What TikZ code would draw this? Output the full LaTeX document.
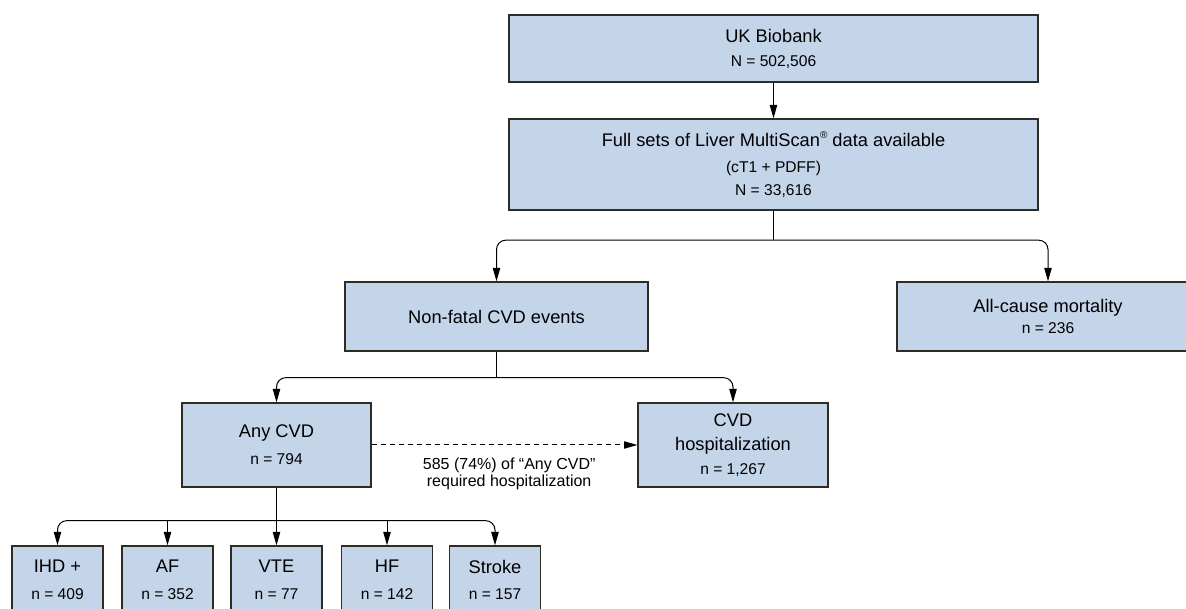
\documentclass[tikz,border=0pt]{standalone}
\usepackage{fontspec}
\setmainfont{Liberation Sans}
\usepackage{tikz}
\usetikzlibrary{positioning, arrows.meta}
\definecolor{boxblue}{RGB}{196,213,234}
\definecolor{boxline}{RGB}{45,45,35}
\newcommand{\cnt}[1]{{\fontsize{11.7}{14}\selectfont #1}}
\newcommand{\regmark}{\raisebox{0.8ex}{\fontsize{7.5}{8}\selectfont ®}}

\begin{document}
\begin{tikzpicture}[x=0.75pt, y=-0.75pt,
    box/.style={draw=boxline, fill=boxblue, line width=1pt, align=center,
        inner sep=0pt, font=\fontsize{13.7}{18}\selectfont},
    arr/.style={-{Triangle[length=10pt, width=5.5pt]}, line width=0.75pt},
    link/.style={arr, rounded corners=7pt}]
    \useasboundingbox (0,0) rectangle (1186,609);

    % Cohort
    \node[box, minimum width=396.75pt, minimum height=50.25pt] (ukb) at (773.5,48.5)
        {UK Biobank\\\cnt{N = 502,506}};
    \node[box, minimum width=396.75pt, minimum height=68.25pt] (lms) at (773.5,164.5)
        {Full sets of Liver MultiScan\regmark\ data available\\[2pt]\cnt{(cT1 + PDFF)}\\[-1pt]\cnt{N = 33,616}};
    \draw[arr] (ukb) -- (lms);

    % Outcomes
    \node[box, minimum width=227.25pt, minimum height=51.75pt] (nonfatal) at (496.5,316.5)
        {Non-fatal CVD events};
    \node[box, minimum width=226.5pt, minimum height=51.75pt] (death) at (1048,316.5)
        {All-cause mortality\\[-2pt]\cnt{n = 236}};
    \path (lms.south) ++(0,29.5) coordinate (j1);
    \draw[line width=0.75pt] (lms.south) -- (j1);
    \draw[link] (j1) -| (nonfatal.north);
    \draw[link] (j1) -| (death.north);

    % CVD events
    \node[box, minimum width=141.75pt, minimum height=63pt] (anycvd) at (276.5,445)
        {Any CVD\\[2pt]\cnt{n = 794}};
    \node[box, minimum width=142.5pt, minimum height=63pt] (hosp) at (733,445)
        {CVD\\hospitalization\\\cnt{n = 1,267}};
    \path (nonfatal.south) ++(0,26) coordinate (j2);
    \draw[line width=0.75pt] (nonfatal.south) -- (j2);
    \draw[link] (j2) -| (anycvd.north);
    \draw[link] (j2) -| (hosp.north);
    \draw[arr, dash pattern=on 3.75pt off 3pt] (anycvd) -- (hosp)
        node[midway, below=9pt, xshift=3.5pt, inner sep=0pt, align=center,
            font=\fontsize{12}{13.3}\selectfont] (note)
        {585 (74\%) of “Any CVD”\\required hospitalization};

    % Event types
    \path (anycvd.south) ++(0,33) coordinate (j3);
    \foreach \x/\nm/\lbl/\n in {57.5/ihd/IHD +/409, 167.5/af/AF/352, 276.5/vte/VTE/77,
            387/hf/HF/142, 495/stroke/Stroke/157}
        \node[box, minimum width=68.25pt, minimum height=51pt] (\nm) at (\x,580)
            {\lbl\\[2pt]\cnt{n = \n}};
    \draw[arr] (anycvd.south) -- (vte.north);
    \draw[link] (j3) -| (ihd.north);
    \draw[link] (j3) -| (stroke.north);
    \foreach \nm in {af, hf}
        \draw[arr] (\nm.north |- j3) -- (\nm.north);
\end{tikzpicture}
\end{document}
